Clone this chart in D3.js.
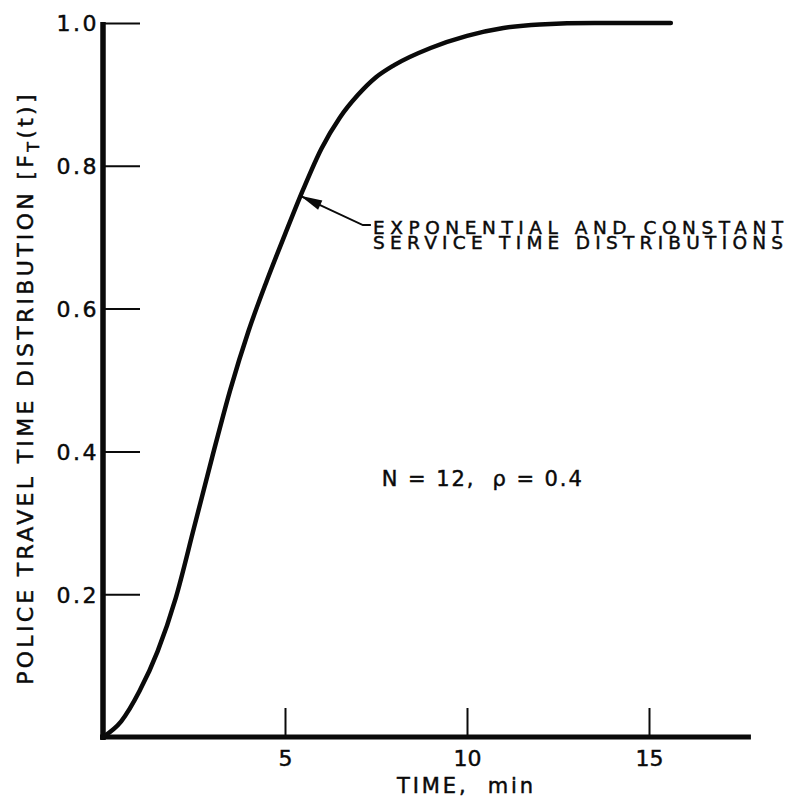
<!DOCTYPE html>
<html>
<head>
<meta charset="utf-8">
<script src="https://cdn.jsdelivr.net/npm/d3@7"></script>
<style>
  html, body { margin: 0; padding: 0; background: #fff; }
  svg { display: block; }
  text { font-family: "DejaVu Sans", "Liberation Sans", Arial, sans-serif; fill: #0a0a0a; stroke: #0a0a0a; stroke-width: 0.45px; }
</style>
</head>
<body>
<svg id="chart" width="791" height="804"></svg>
<script>
// ---- data ----
const timeMin = [0, 0.5, 1.0, 1.5, 2.0, 2.5, 3.0, 3.5, 4.0, 4.5, 5.0, 5.5, 6.0, 6.5, 7.0, 7.5, 8.0, 9.0, 10.0, 11.0, 12.0, 13.5, 15.6];
const travelCdf = [0, 0.022, 0.064, 0.120, 0.195, 0.293, 0.392, 0.487, 0.569, 0.639, 0.704, 0.767, 0.824, 0.867, 0.899, 0.924, 0.941, 0.965, 0.982, 0.993, 0.998, 1.0, 1.0];
const xTicks = [5, 10, 15];
const yTicks = [0.2, 0.4, 0.6, 0.8, 1.0];
const yTickLabels = ["0.2", "0.4", "0.6", "0.8", "1.0"];
const xMax = 17.8;
const annotationLines = ["EXPONENTIAL AND CONSTANT", "SERVICE TIME DISTRIBUTIONS"];
const paramText = "N = 12,  \u03C1 = 0.4";

const svg = d3.select("#chart");
const x = d3.scaleLinear().domain([0, 15]).range([103, 649]);
const y = d3.scaleLinear().domain([0, 1]).range([737, 23]);

// y axis ticks + labels
const yAxis = d3.axisLeft(y).tickValues(yTicks).tickSize(-37).tickPadding(4)
  .tickFormat((d, i) => yTickLabels[i]);
const gy = svg.append("g").attr("transform", `translate(${x(0)},0)`).call(yAxis);
gy.select(".domain").remove();
gy.selectAll(".tick line").attr("stroke", "#0a0a0a").attr("stroke-width", 2);
gy.selectAll(".tick text").attr("font-size", 22).attr("letter-spacing", 2.5)
  .attr("fill", "#0a0a0a").attr("dy", "0.36em").style("font-family", "DejaVu Sans");

// x axis ticks + labels
const xAxis = d3.axisBottom(x).tickValues(xTicks).tickSize(-29).tickPadding(13);
const gx = svg.append("g").attr("transform", `translate(0,${y(0)})`).call(xAxis);
gx.select(".domain").remove();
gx.selectAll(".tick line").attr("stroke", "#0a0a0a").attr("stroke-width", 2);
gx.selectAll(".tick text").attr("font-size", 22).attr("fill", "#0a0a0a").style("font-family", "DejaVu Sans");

// heavy axis lines
svg.append("line").attr("x1", x(0)).attr("x2", x(0)).attr("y1", y(1) - 1).attr("y2", y(0) + 3)
  .attr("stroke", "#0a0a0a").attr("stroke-width", 5.5);
svg.append("line").attr("x1", x(0) - 3).attr("x2", x(xMax)).attr("y1", y(0)).attr("y2", y(0))
  .attr("stroke", "#0a0a0a").attr("stroke-width", 5);

// curve
const pts = timeMin.map((t, i) => [t, travelCdf[i]]);
const line = d3.line().x(d => x(d[0])).y(d => y(d[1])).curve(d3.curveMonotoneX);
svg.append("path").attr("d", line(pts)).attr("fill", "none")
  .attr("stroke", "#0a0a0a").attr("stroke-width", 4.5).attr("stroke-linecap", "round");

// annotation arrow
const tip = [5.42, 0.758], elbow = [7.14, 0.717], tail = [7.36, 0.717];
svg.append("path")
  .attr("d", d3.line().x(d => x(d[0])).y(d => y(d[1])).curve(d3.curveLinear)([tip, elbow, tail]))
  .attr("fill", "none").attr("stroke", "#0a0a0a").attr("stroke-width", 2);
const tx = x(tip[0]), ty = y(tip[1]);
const ang = Math.atan2(y(elbow[1]) - ty, x(elbow[0]) - tx);
const hl = 22, hw = 5;
const bx = tx + hl * Math.cos(ang), by = ty + hl * Math.sin(ang);
svg.append("path")
  .attr("d", `M${tx},${ty} L${bx - hw * Math.sin(ang)},${by + hw * Math.cos(ang)} L${bx + hw * Math.sin(ang)},${by - hw * Math.cos(ang)} Z`)
  .attr("fill", "#0a0a0a");

svg.selectAll("text.ann").data(annotationLines).join("text")
  .attr("class", "ann")
  .attr("x", x(7.42))
  .attr("y", (d, i) => y(0.704) + i * 15)
  .attr("font-size", 18.5)
  .attr("textLength", 410).attr("lengthAdjust", "spacing")
  .text(d => d);

svg.append("text").attr("x", x(7.66)).attr("y", y(0.351))
  .attr("font-size", 21)
  .attr("textLength", 200).attr("lengthAdjust", "spacing")
  .style("white-space", "pre")
  .text(paramText);

// axis titles
svg.append("text").attr("x", 397).attr("y", 793)
  .attr("font-size", 21)
  .attr("textLength", 136).attr("lengthAdjust", "spacing")
  .style("white-space", "pre")
  .text("TIME,  min");

const yt = svg.append("text").attr("transform", "translate(33,388) rotate(-90)")
  .attr("text-anchor", "middle").attr("font-size", 22).attr("letter-spacing", 3.3);
yt.append("tspan").text("POLICE TRAVEL TIME DISTRIBUTION [F");
yt.append("tspan").attr("font-size", 16).attr("dy", "0.35em").text("T");
yt.append("tspan").attr("dy", "-0.27em").text("(t)]");
</script>
</body>
</html>
